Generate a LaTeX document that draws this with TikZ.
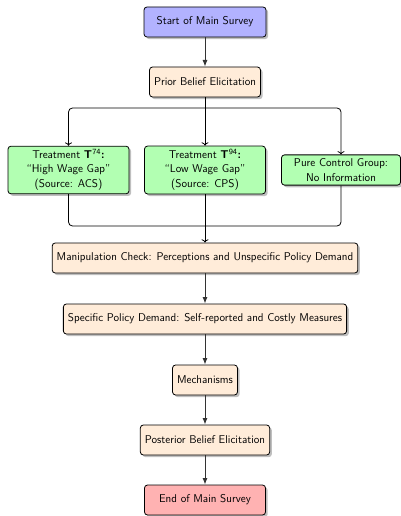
\documentclass[tikz,border=0pt]{standalone}
\usepackage{amsmath}
\usepackage{xcolor}
\usepackage{tikz}
\usetikzlibrary{arrows.meta, shadows, positioning}

\tikzset{
  stage/.style={draw, thick, rounded corners=3pt, fill=orange!15, drop shadow,
    font=\sffamily\fontsize{11.3}{13.5}\selectfont, align=center,
    minimum height=30pt, inner xsep=4.5pt},
  treat/.style={stage, fill=green!30, minimum width=121pt},
  flow/.style={-Latex, thick, black!80},
  branch/.style={->, thick, rounded corners=4pt}
}

\begin{document}
\begin{tikzpicture}[x=1pt, y=1pt]
  \useasboundingbox (0,0) rectangle (401,-516);
  % Top of the survey
  \node[stage, fill=blue!30, minimum width=122pt] (start) at (205,-22) {Start of Main Survey};
  \node[stage] (prior) at (205,-82) {Prior Belief Elicitation};
  % Treatment arms
  \node[treat] (t74) at (68.5,-170) {Treatment \textbf{T}\textsuperscript{74}\textbf{:}\\``High Wage Gap''\\[2pt](Source: ACS)};
  \node[treat] (t94) at (205,-170) {Treatment \textbf{T}\textsuperscript{94}\textbf{:}\\``Low Wage Gap''\\[2pt](Source: CPS)};
  \node[treat, minimum width=119pt] (ctrl) at (341,-170) {Pure Control Group:\\[2pt]No Information};
  % Outcomes
  \node[stage] (manip) at (205,-258) {Manipulation Check: Perceptions and Unspecific Policy Demand};
  \node[stage] (spec) at (205,-319) {Specific Policy Demand: Self-reported and Costly Measures};
  \node[stage] (mech) at (205,-380) {Mechanisms};
  \node[stage] (post) at (205,-440) {Posterior Belief Elicitation};
  \node[stage, fill=red!30, minimum width=121pt] (end) at (205,-500) {End of Main Survey};

  \coordinate (split) at (205,-108);
  \coordinate (merge) at (205,-226);

  \draw[flow] (start) -- (prior);
  \draw[thick] (prior) -- (split);
  \draw[branch] (split) -| (t74);
  \draw[branch] (split) -- (t94);
  \draw[branch] (split) -| (ctrl);
  \draw[thick, rounded corners=4pt] (t74) |- (merge);
  \draw[thick] (t94) -- (merge);
  \draw[thick, rounded corners=4pt] (ctrl) |- (merge);
  \draw[->, thick] (merge) -- (manip);
  \draw[flow] (manip) -- (spec);
  \draw[flow] (spec) -- (mech);
  \draw[flow] (mech) -- (post);
  \draw[flow] (post) -- (end);
\end{tikzpicture}
\end{document}
